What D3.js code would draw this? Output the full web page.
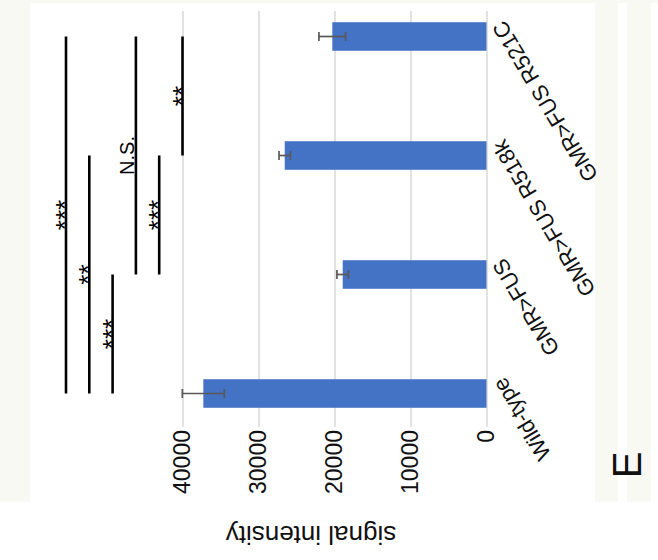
<!DOCTYPE html>
<html>
<head>
<meta charset="utf-8">
<script src="https://cdnjs.cloudflare.com/ajax/libs/d3/7.8.5/d3.min.js"></script>
<style>
body { margin: 0; background: #ffffff; }
text { font-family: "Liberation Sans", Arial, sans-serif; fill: #111; }
.grid line { stroke: #d9d9d9; stroke-width: 1.5; }
.grid path { stroke: none; }
.grid text { font-size: 23px; }
</style>
</head>
<body>
<div id="chart"></div>
<script>
// Values
var categories = ["Wild-type", "GMR>FUS", "GMR>FUS R518k", "GMR>FUS R521C"];
var intensity = [37260, 18920, 26550, 20290];
var errors = [2760, 760, 750, 1760];
var yTicks = [0, 10000, 20000, 30000, 40000];

// Significance brackets, innermost first
var compFrom = ["GMR>FUS R518k", "GMR>FUS", "GMR>FUS", "Wild-type", "Wild-type", "Wild-type"];
var compTo = ["GMR>FUS R521C", "GMR>FUS R518k", "GMR>FUS R521C", "GMR>FUS", "GMR>FUS R518k", "GMR>FUS R521C"];
var compLabel = ["**", "***", "N.S.", "***", "**", "***"];

var width = 658, height = 560;

// The figure is a vertical bar chart turned a quarter turn anticlockwise,
// so everything is drawn upright in the group and the group is rotated.
var plotLeft = 133, plotRight = 549;

var x = d3.scaleBand()
    .domain(categories)
    .range([107, 583])
    .paddingInner(0.76)
    .paddingOuter(0.38);
var y = d3.scaleLinear()
    .domain([0, 40000])
    .range([486.5, 182.5]);

var svg = d3.select("#chart")
    .append("svg")
        .attr("width", width)
        .attr("height", height);

// Scanned page background
svg.append("rect").attr("x", 0).attr("y", 0).attr("width", 30).attr("height", 502).style("fill", "#f9f9f3");
svg.append("rect").attr("x", 595).attr("y", 0).attr("width", 23).attr("height", 502).style("fill", "#f9f9f3");
svg.append("rect").attr("x", 627).attr("y", 0).attr("width", 24).attr("height", 502).style("fill", "#f9f9f3");
svg.append("rect").attr("x", 0).attr("y", 0).attr("width", 658).attr("height", 3).style("fill", "#f9f9f3");

var g = svg.append("g")
    .attr("transform", "translate(0," + height + ") rotate(-90)");

// Add the grid and value labels
g.append("g")
    .attr("class", "grid")
    .attr("transform", "translate(" + plotLeft + ",0)")
    .call(d3.axisLeft(y)
        .tickValues(yTicks)
        .tickSize(-(plotRight - plotLeft))
        .tickPadding(3)
        .tickFormat(d3.format("d")));

// Add the bars
var rows = categories.map(function(c, i) {
    return {cat: c, value: intensity[i], err: errors[i]};
});

g.selectAll(".bar")
    .data(rows)
    .enter().append("rect")
    .attr("class", "bar")
    .attr("x", function(d) { return x(d.cat); })
    .attr("width", x.bandwidth())
    .attr("y", function(d) { return y(d.value); })
    .attr("height", function(d) { return y(0) - y(d.value); })
    .style("fill", "#4472c4");

// Add the error bars
var cap = 4.5;
var eb = g.selectAll(".err")
    .data(rows)
    .enter().append("g")
    .attr("class", "err")
    .style("stroke", "#595959")
    .style("stroke-width", 1.7);
eb.append("line")
    .attr("x1", function(d) { return x(d.cat) + x.bandwidth() / 2; })
    .attr("x2", function(d) { return x(d.cat) + x.bandwidth() / 2; })
    .attr("y1", function(d) { return y(d.value - d.err); })
    .attr("y2", function(d) { return y(d.value + d.err); });
eb.append("line")
    .attr("x1", function(d) { return x(d.cat) + x.bandwidth() / 2 - cap; })
    .attr("x2", function(d) { return x(d.cat) + x.bandwidth() / 2 + cap; })
    .attr("y1", function(d) { return y(d.value + d.err); })
    .attr("y2", function(d) { return y(d.value + d.err); });
eb.append("line")
    .attr("x1", function(d) { return x(d.cat) + x.bandwidth() / 2 - cap; })
    .attr("x2", function(d) { return x(d.cat) + x.bandwidth() / 2 + cap; })
    .attr("y1", function(d) { return y(d.value - d.err); })
    .attr("y2", function(d) { return y(d.value - d.err); });

// Add the category labels
g.selectAll(".catlabel")
    .data(categories)
    .enter().append("text")
    .attr("class", "catlabel")
    .attr("transform", function(d) {
        return "translate(" + (x(d) + x.bandwidth() / 2 + 9) + "," + (y(0) + 4) + ") rotate(-31)";
    })
    .attr("dy", "0.75em")
    .attr("text-anchor", "end")
    .style("font-size", "22px")
    .text(function(d) { return d; });

// Add the significance brackets
var levelGap = 23.3;
compLabel.forEach(function(lab, i) {
    var ly = y(40000) - i * levelGap;
    var xa = x(compFrom[i]) + x.bandwidth() / 2;
    var xb = x(compTo[i]) + x.bandwidth() / 2;
    g.append("line")
        .attr("x1", xa).attr("x2", xb)
        .attr("y1", ly).attr("y2", ly)
        .style("stroke", "#000")
        .style("stroke-width", 2.6);
    var isStar = lab.indexOf("*") >= 0;
    g.append("text")
        .attr("x", (xa + xb) / 2)
        .attr("y", isStar ? ly + 8 : ly - 1.5)
        .attr("text-anchor", "middle")
        .style("font-size", isStar ? "26px" : "20px")
        .style("fill", "#000")
        .text(lab);
});

// Add the axis title
g.append("text")
    .attr("transform", "translate(25,311) rotate(-90)")
    .attr("dy", "0.35em")
    .attr("text-anchor", "middle")
    .style("font-size", "26px")
    .text("signal intensity");

// Panel letter
g.append("text")
    .attr("x", 95)
    .attr("y", 627)
    .attr("dy", "0.35em")
    .attr("text-anchor", "middle")
    .style("font-size", "40px")
    .text("E");
</script>
</body>
</html>
